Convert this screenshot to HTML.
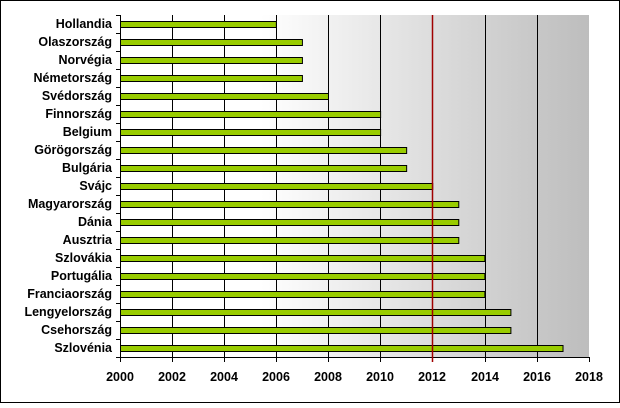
<!DOCTYPE html>
<html><head><style>
body{margin:0;width:620px;height:403px;overflow:hidden;background:#fff;font-family:"Liberation Sans",Arial,sans-serif}
</style></head><body>
<svg width="620" height="403" xmlns="http://www.w3.org/2000/svg">
<defs><linearGradient id="g" x1="0" x2="1" y1="0" y2="0">
<stop offset="0" stop-color="#fff"/><stop offset="0.3" stop-color="#fff"/><stop offset="1" stop-color="#bdbdbd"/></linearGradient></defs>
<rect x="0.5" y="0.5" width="619" height="402" fill="#fff" stroke="#000"/>
<rect x="120" y="15" width="469" height="342" fill="url(#g)"/>
<g stroke="#000" stroke-width="1">
<line x1="172.5" y1="15" x2="172.5" y2="362"/><line x1="224.5" y1="15" x2="224.5" y2="362"/>
<line x1="276.5" y1="15" x2="276.5" y2="362"/><line x1="328.5" y1="15" x2="328.5" y2="362"/>
<line x1="380.5" y1="15" x2="380.5" y2="362"/>
<line x1="485.5" y1="15" x2="485.5" y2="362"/><line x1="537.5" y1="15" x2="537.5" y2="362"/>
<line x1="589.5" y1="357" x2="589.5" y2="362"/>
<line x1="120.5" y1="15" x2="120.5" y2="362"/>
<line x1="120" y1="357.5" x2="590" y2="357.5"/>
</g>
<g stroke="#000" id="ticks"></g>
<g id="bars" fill="#99cc00" stroke="#000" stroke-width="1"></g>
<line x1="432.5" y1="15" x2="432.5" y2="362" stroke="#a00000" stroke-width="1.5"/>
<g id="lab" font-size="12.5" font-weight="bold" text-anchor="end"></g>
<g font-size="12.5" font-weight="bold" text-anchor="middle">
<text x="120" y="381">2000</text><text x="172" y="381">2002</text><text x="224" y="381">2004</text>
<text x="276" y="381">2006</text><text x="328" y="381">2008</text><text x="380" y="381">2010</text>
<text x="432" y="381">2012</text><text x="485" y="381">2014</text><text x="537" y="381">2016</text>
<text x="589" y="381">2018</text></g>
<script>
var d=[["Hollandia",2006],["Olaszország",2007],["Norvégia",2007],["Németország",2007],["Svédország",2008],["Finnország",2010],["Belgium",2010],["Görögország",2011],["Bulgária",2011],["Svájc",2012],["Magyarország",2013],["Dánia",2013],["Ausztria",2013],["Szlovákia",2014],["Portugália",2014],["Franciaország",2014],["Lengyelország",2015],["Csehország",2015],["Szlovénia",2017]];
var ns="http://www.w3.org/2000/svg",b=document.getElementById("bars"),l=document.getElementById("lab"),t=document.getElementById("ticks");
function el(n,a,p){var e=document.createElementNS(ns,n);for(var k in a)e.setAttribute(k,a[k]);p.appendChild(e);return e;}
for(var i=0;i<=19;i++){var y=15+i*18;el("line",{x1:116,x2:120,y1:y+0.5,y2:y+0.5},t);}
d.forEach(function(r,i){var y=15+i*18;var x2=120+(r[1]-2000)*26.06;
el("rect",{x:120.5,y:y+6.5,width:x2-120.5,height:6},b);
var tx=el("text",{x:112,y:y+13},l);tx.textContent=r[0];});
</script>
</svg>
</body></html>
